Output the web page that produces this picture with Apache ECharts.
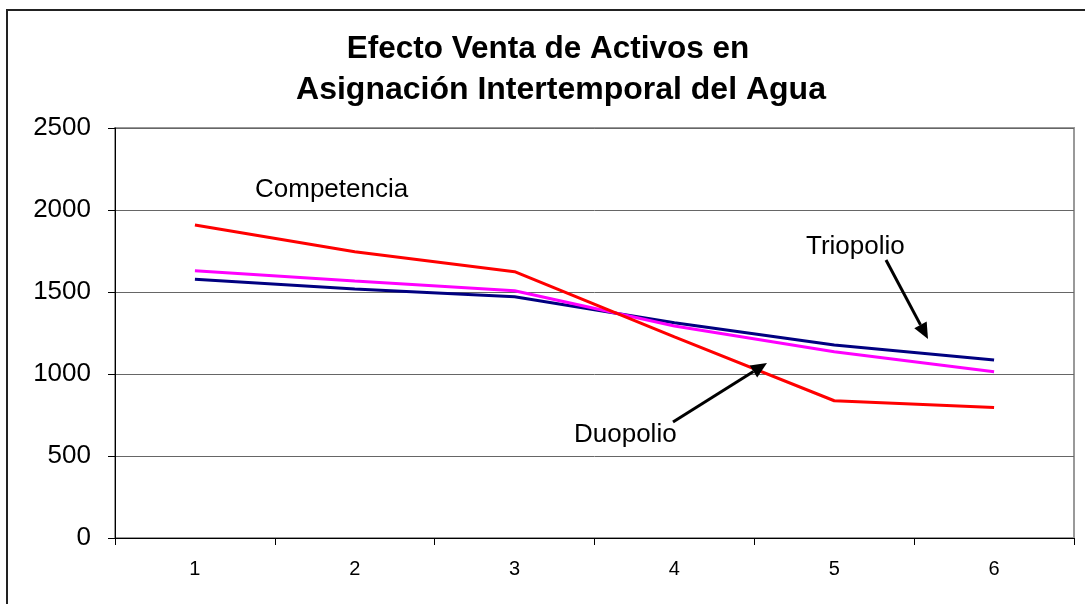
<!DOCTYPE html>
<html>
<head>
<meta charset="utf-8">
<script src="https://cdn.jsdelivr.net/npm/echarts@6/dist/echarts.min.js"></script>
<style>
html,body{margin:0;padding:0;background:#fff;}
#main{width:1085px;height:604px;}
</style>
</head>
<body>
<div id="main"></div>
<script>
var categories = ['1', '2', '3', '4', '5', '6'];
var competencia = [1908, 1745, 1624, 1226, 837, 795];
var duopolio = [1630, 1567, 1508, 1293, 1136, 1014];
var triopolio = [1577, 1518, 1471, 1313, 1177, 1085];
var yTicks = [0, 500, 1000, 1500, 2000, 2500];

var FONT = '"Liberation Sans", Arial, sans-serif';

function arrow(x1, y1, x2, y2) {
  var dx = x2 - x1, dy = y2 - y1;
  var len = Math.sqrt(dx * dx + dy * dy);
  var ux = dx / len, uy = dy / len;
  var hl = 16, hw = 7;
  var bx = x2 - hl * ux, by = y2 - hl * uy;
  var px = -uy * hw, py = ux * hw;
  return [
    { type: 'line', shape: { x1: x1, y1: y1, x2: bx, y2: by }, style: { stroke: '#000', lineWidth: 3 }, z: 100 },
    { type: 'polygon', shape: { points: [[x2, y2], [bx + px, by + py], [bx - px, by - py]] }, style: { fill: '#000' }, z: 100 }
  ];
}

var chart = echarts.init(document.getElementById('main'), null, { renderer: 'canvas' });
var graphics = [
  { type: 'rect', shape: { x: 7, y: 10, width: 1200, height: 800 }, style: { fill: 'none', stroke: '#222', lineWidth: 2 }, z: 0, silent: true },
  { type: 'text', x: 255, y: 190, style: { text: 'Competencia', font: '26px ' + FONT, fill: '#000', textVerticalAlign: 'middle' }, z: 100 },
  { type: 'text', x: 806, y: 247, style: { text: 'Triopolio', font: '26px ' + FONT, fill: '#000', textVerticalAlign: 'middle' }, z: 100 },
  { type: 'text', x: 574, y: 435, style: { text: 'Duopolio', font: '26px ' + FONT, fill: '#000', textVerticalAlign: 'middle' }, z: 100 }
].concat(arrow(886, 260, 928, 339)).concat(arrow(673, 422, 767, 363));

var option = {
  animation: false,
  backgroundColor: '#fff',
  title: [
    { text: 'Efecto Venta de Activos en', left: 548, top: 33, textAlign: 'center', padding: 0,
      textStyle: { fontFamily: FONT, fontSize: 31.5, fontWeight: 'bold', color: '#000' } },
    { text: 'Asignación Intertemporal del Agua', left: 561, top: 74, textAlign: 'center', padding: 0,
      textStyle: { fontFamily: FONT, fontSize: 32, fontWeight: 'bold', color: '#000' } }
  ],
  grid: { left: 115, right: 11, top: 128, bottom: 66, show: true, borderColor: '#999', borderWidth: 2, backgroundColor: 'transparent', containLabel: false },
  xAxis: {
    type: 'category',
    data: categories,
    boundaryGap: true,
    axisLine: { lineStyle: { color: '#000', width: 1 } },
    axisTick: { show: true, length: 7, alignWithLabel: false, lineStyle: { color: '#000' } },
    axisLabel: { fontFamily: FONT, fontSize: 20, color: '#000', margin: 21 },
    splitLine: { show: false }
  },
  yAxis: {
    type: 'value',
    min: yTicks[0],
    max: yTicks[yTicks.length - 1],
    interval: 500,
    axisLine: { show: true, lineStyle: { color: '#000', width: 1 } },
    axisTick: { show: true, length: 7, lineStyle: { color: '#000' } },
    axisLabel: { fontFamily: FONT, fontSize: 26, color: '#000', margin: 24, formatter: function (v) { return String(v); } },
    splitLine: { show: true, lineStyle: { color: '#666', width: 1 } }
  },
  graphic: graphics,
  series: [
    { name: 'Triopolio', type: 'line', data: triopolio, showSymbol: false, symbol: 'none',
      lineStyle: { color: '#000080', width: 3 }, itemStyle: { color: '#000080' } },
    { name: 'Duopolio', type: 'line', data: duopolio, showSymbol: false, symbol: 'none',
      lineStyle: { color: '#FF00FF', width: 3 }, itemStyle: { color: '#FF00FF' } },
    { name: 'Competencia', type: 'line', data: competencia, showSymbol: false, symbol: 'none',
      lineStyle: { color: '#FF0000', width: 3 }, itemStyle: { color: '#FF0000' } }
  ]
};
chart.setOption(option);
</script>
</body>
</html>
